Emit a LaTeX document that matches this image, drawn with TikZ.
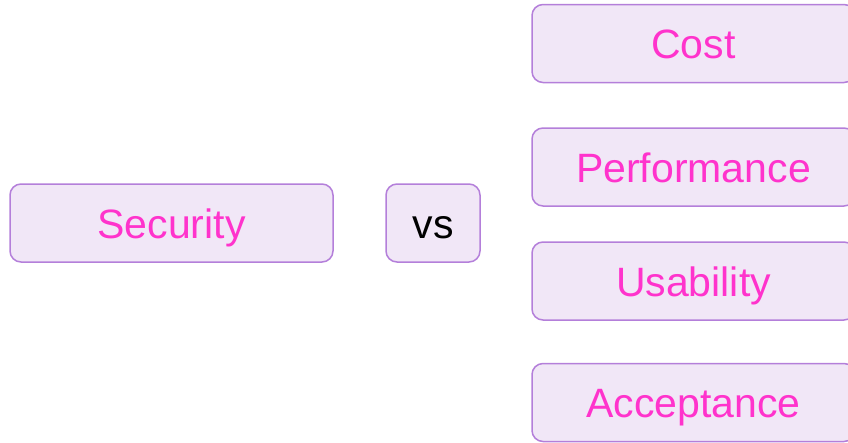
\documentclass[tikz,border=0pt]{standalone}
\usepackage{fontspec}
\setmainfont{Liberation Sans}
\definecolor{boxfill}{HTML}{F1E7F7}
\definecolor{boxline}{HTML}{B47FDA}
\definecolor{labelpink}{HTML}{FF33CC}
\begin{document}
\begin{tikzpicture}[x=1pt,y=-1pt,line join=round,
	box/.style={draw=boxline,fill=boxfill,line width=1.5pt,rounded corners=11pt,
		minimum height=78pt,inner sep=0pt,text height=30pt,text depth=0pt,
		text=labelpink,font=\fontsize{41}{49}\selectfont}]
	\useasboundingbox (0,0) rectangle (848,442);
	\node[box,minimum width=323pt] (security) at (171.5,223) {Security};
	\node[box,minimum width=94pt,text=black] (vs) at (433,223) {vs};
	\foreach \name/\y/\txt in
	{cost/43.5/Cost,perf/167/Performance,usab/281/Usability,accept/402.5/Acceptance}
	\node[box,minimum width=323pt] (\name) at (693.5,\y) {\txt};
\end{tikzpicture}
\end{document}
